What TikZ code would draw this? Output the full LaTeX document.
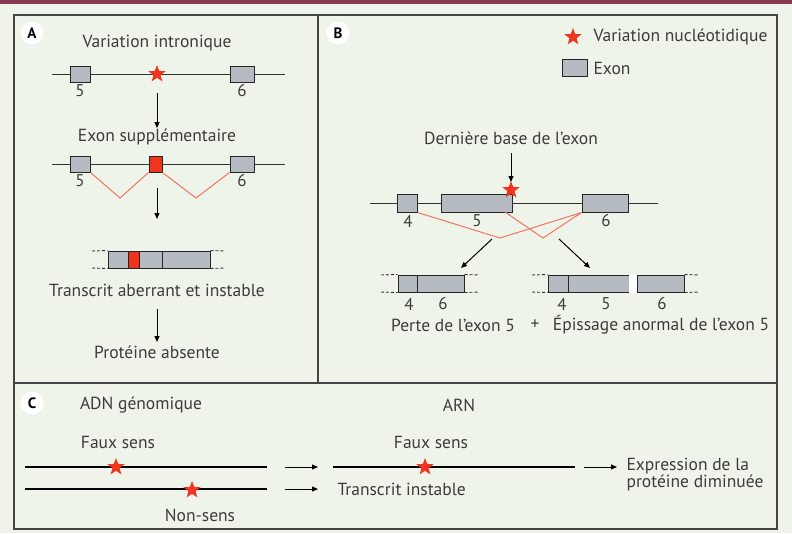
\documentclass[tikz,border=0pt]{standalone}
\usepackage{fontspec}
\setmainfont{PT Sans}
\usetikzlibrary{shapes.geometric,arrows.meta}
\definecolor{bg}{HTML}{EEF4EA}
\definecolor{maroonc}{HTML}{8A3A50}
\definecolor{exgray}{HTML}{B5BBC1}
\definecolor{txt}{HTML}{3C3C3C}
\definecolor{starred}{HTML}{F0341E}
\definecolor{splice}{HTML}{F2735E}
\definecolor{frame}{HTML}{444444}
\begin{document}
\begin{tikzpicture}[x=1pt,y=-1pt,
  every node/.style={text=txt, font=\fontsize{17.5}{20}\selectfont},
  panel/.style={draw=frame, line width=1.2pt},
  letter/.style={circle, fill=white, minimum size=23, inner sep=0, font=\bfseries\fontsize{15}{17}\selectfont, text=black},
  exon/.style={rectangle, draw=black!85, fill=exgray, line width=1pt, inner sep=0, minimum height=16},
  redex/.style={exon, fill=starred},
  seg/.style={rectangle, draw=black!85, fill=exgray, line width=1pt, inner sep=0, minimum height=17},
  gap/.style={rectangle, fill=white, inner sep=0, minimum height=18.2},
  mstar/.style={star, star points=5, star point ratio=2.4, fill=starred, draw=none, minimum size=18, inner sep=0},
  gene/.style={draw=black!80, line width=1pt},
  dna/.style={draw=black, line width=2.6pt},
  splicel/.style={draw=splice, line width=1pt},
  arr/.style={draw=black, line width=1pt, -{Triangle[length=6pt,width=5pt]}},
  dashl/.style={draw=black!80, line width=0.9pt, dash pattern=on 3pt off 2pt},
  num/.style={font=\fontsize{17}{19}\selectfont}
]
\useasboundingbox (0,0) rectangle (792,533);
\fill[bg] (0,0) rectangle (792,533);
\fill[maroonc] (0,0) rectangle (792,4);

% panels
\draw[panel] (14,15) rectangle (318,383);
\draw[panel] (318,15) rectangle (777,383);
\draw[panel] (14,383) rectangle (777,529);

\node[letter] (LA) at (32,33) {A};
\node[letter] (LB) at (338,33) {B};
\node[letter] (LC) at (32,403) {C};

% ---------------- Panel A
\node (tA1) at (157,43) {Variation intronique};
\coordinate (gA1l) at (52,74);
\coordinate (gA1r) at (285,74);
\draw[gene] (gA1l) -- (gA1r);
\node[exon, minimum width=20] (a5) at (80,74) {};
\node[exon, minimum width=24] (a6) at (242,74) {};
\node[mstar] (sA) at (157,74) {};
\node[num] (n5a) at (80,91) {5};
\node[num] (n6a) at (242,91) {6};
\coordinate (arA1s) at (157,93);
\coordinate (arA1e) at (157,128);
\draw[arr] (arA1s) -- (arA1e);

\node (tA2) at (157,137) {Exon supplémentaire};
\coordinate (gA2l) at (52,164);
\coordinate (gA2r) at (285,164);
\draw[gene] (gA2l) -- (gA2r);
\coordinate (vA1) at (120,198);
\coordinate (vA2) at (196,198);
\node[exon, minimum width=20] (b5) at (80,164) {};
\node[redex, minimum width=13] (bx) at (155.5,164) {};
\node[exon, minimum width=24] (b6) at (242,164) {};
\draw[splicel] (b5.south east) -- (vA1) -- (bx.south west);
\draw[splicel] (bx.south east) -- (vA2) -- (b6.south west);
\node[num] (n5b) at (80,181) {5};
\node[num] (n6b) at (242,181) {6};
\coordinate (arA2s) at (157,188);
\coordinate (arA2e) at (157,219);
\draw[arr] (arA2s) -- (arA2e);

% transcript A
\coordinate (dA1) at (92,251);
\coordinate (dA2) at (92,268);
\coordinate (dA3) at (224,251);
\coordinate (dA4) at (224,268);
\node[seg, minimum width=20] (ta1) at (118,259.5) {};
\node[seg, minimum width=11, fill=starred] (ta2) at (133.5,259.5) {};
\node[seg, minimum width=23] (ta3) at (150.5,259.5) {};
\node[seg, minimum width=48] (ta4) at (186,259.5) {};
\draw[dashl] (dA1) -- (ta1.north west);
\draw[dashl] (dA2) -- (ta1.south west);
\draw[dashl] (ta4.north east) -- (dA3);
\draw[dashl] (ta4.south east) -- (dA4);
\node (tA3) at (157,290) {Transcrit aberrant et instable};
\coordinate (arA3s) at (157,309);
\coordinate (arA3e) at (157,342);
\draw[arr] (arA3s) -- (arA3e);
\node (tA4) at (157,352) {Protéine absente};

% ---------------- Panel B
\node[mstar] (legS) at (573,37) {};
\node[anchor=west] (legT) at (590,37) {Variation nucléotidique};
\node[exon, minimum width=25, minimum height=17] (legE) at (574.5,67.5) {};
\node[anchor=west] (legET) at (590,68) {Exon};

\node (tB1) at (511,138) {Dernière base de l’exon};
\coordinate (arB1s) at (511,153);
\coordinate (arB1e) at (511,182);
\draw[arr] (arB1s) -- (arB1e);

\coordinate (gBl) at (370,203);
\coordinate (gBr) at (658,203);
\draw[gene] (gBl) -- (gBr);
\node[exon, minimum width=20, minimum height=18] (e4) at (407,203) {};
\node[exon, minimum width=71, minimum height=18] (e5) at (476.5,203) {};
\node[exon, minimum width=46, minimum height=18] (e6) at (605,203) {};
\coordinate (vB1) at (500,238);
\coordinate (vB2) at (543,238);
\coordinate (e5s) at (505,212);
\draw[splicel] (e4.south east) -- (vB1) -- (e6.south west);
\draw[splicel] (e5s) -- (vB2) -- (e6.south west);
\node[mstar] (sB) at (511,190) {};
\node[num] (n4) at (408,221) {4};
\node[num] (n5) at (477,221) {5};
\node[num] (n6) at (606,221) {6};

\coordinate (arB2s) at (492,239);
\coordinate (arB2e) at (461,268);
\coordinate (arB3s) at (559,239);
\coordinate (arB3e) at (590,268);
\draw[arr] (arB2s) -- (arB2e);
\draw[arr] (arB3s) -- (arB3e);

% left transcript B
\node[seg, minimum width=19] (tl1) at (407.5,283.5) {};
\node[seg, minimum width=47] (tl2) at (440.5,283.5) {};
\coordinate (dB1) at (381,275);
\coordinate (dB2) at (381,292);
\coordinate (dB3) at (479,275);
\coordinate (dB4) at (479,292);
\draw[dashl] (dB1) -- (tl1.north west);
\draw[dashl] (dB2) -- (tl1.south west);
\draw[dashl] (tl2.north east) -- (dB3);
\draw[dashl] (tl2.south east) -- (dB4);
\node[num] (m4) at (409,304) {4};
\node[num] (m6) at (443,304) {6};

% right transcript B
\node[seg, minimum width=136] (trall) at (616,283.5) {};
\node[gap, minimum width=8] (trg) at (633,283.5) {};
\draw[black!85, line width=1pt] (568,275) -- (568,292);
\draw[black!85, line width=1pt] (637,275) -- (637,292);
\coordinate (dC1) at (532,275);
\coordinate (dC2) at (532,292);
\coordinate (dC3) at (699,275);
\coordinate (dC4) at (699,292);
\draw[dashl] (dC1) -- (trall.north west);
\draw[dashl] (dC2) -- (trall.south west);
\draw[dashl] (trall.north east) -- (dC3);
\draw[dashl] (trall.south east) -- (dC4);
\node[num] (r4) at (562,304) {4};
\node[num] (r5) at (606,304) {5};
\node[num] (r6) at (662,304) {6};

\node (tB2) at (453,325) {Perte de l’exon 5};
\node (tB3) at (535,325) {+};
\node (tB4) at (661,325) {Épissage anormal de l’exon 5};

% ---------------- Panel C
\node (tC1) at (141,405) {ADN génomique};
\node (tC2) at (118,442) {Faux sens};
\node (tC3) at (459,405) {ARN};
\node (tC4) at (431,442) {Faux sens};

\coordinate (c1l) at (25,467);
\coordinate (c1r) at (267,467);
\coordinate (c2l) at (25,489);
\coordinate (c2r) at (267,489);
\coordinate (c3l) at (333,467);
\coordinate (c3r) at (575,467);
\draw[dna] (c1l) -- (c1r);
\draw[dna] (c2l) -- (c2r);
\draw[dna] (c3l) -- (c3r);
\node[mstar] (sC1) at (116,467) {};
\node[mstar] (sC2) at (192,490) {};
\node[mstar] (sC3) at (425,467) {};
\node (tC5) at (200,515) {Non-sens};

\coordinate (ac1s) at (285,467);
\coordinate (ac1e) at (318,467);
\coordinate (ac2s) at (285,489);
\coordinate (ac2e) at (318,489);
\coordinate (ac3s) at (584,467);
\coordinate (ac3e) at (617,467);
\draw[arr] (ac1s) -- (ac1e);
\draw[arr] (ac2s) -- (ac2e);
\draw[arr] (ac3s) -- (ac3e);
\node[anchor=west] (tC6) at (334,489) {Transcrit instable};
\node[anchor=west, align=left, font=\fontsize{17.5}{17}\selectfont] (tC7) at (623,475) {Expression de la\\protéine diminuée};
\end{tikzpicture}
\end{document}
